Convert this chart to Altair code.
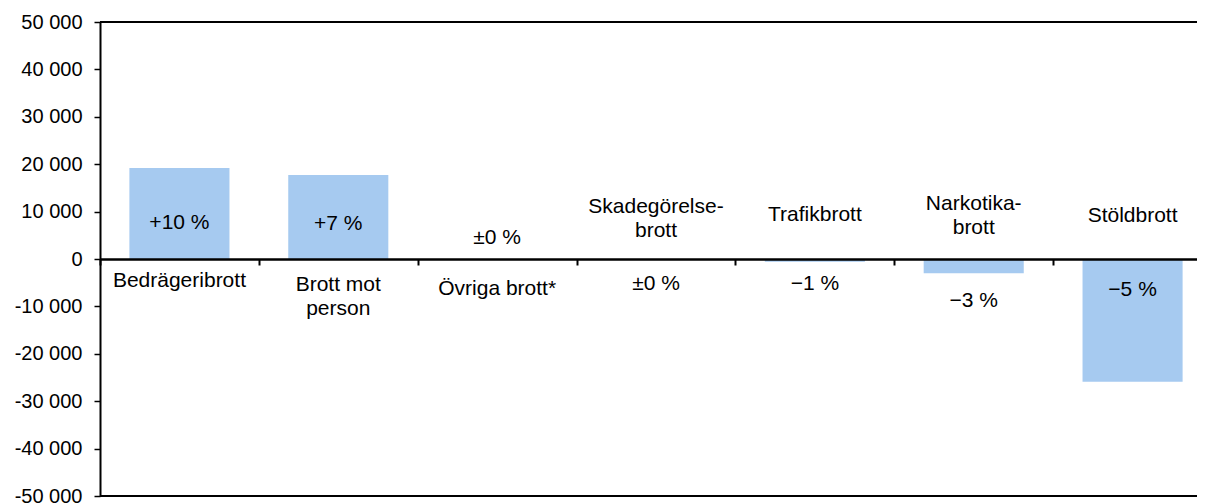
import altair as alt
import pandas as pd

# ---- data ----
categories = ["Bedrägeribrott", "Brott mot person", "Övriga brott*", "Skadegörelsebrott",
              "Trafikbrott", "Narkotikabrott", "Stöldbrott"]
change = [19200, 17700, 0, 0, -600, -3000, -25900]
pct_labels = ["+10 %", "+7 %", "±0 %", "±0 %", "−1 %", "−3 %", "−5 %"]
cat_labels = ["Bedrägeribrott", "Brott mot\nperson", "Övriga brott*", "Skadegörelse-\nbrott",
              "Trafikbrott", "Narkotika-\nbrott", "Stöldbrott"]
y_ticks = [-50000, -40000, -30000, -20000, -10000, 0, 10000, 20000, 30000, 40000, 50000]

# label anchors (in data units; first line of a wrapped label)
pct_y = [7600, 7400, 4430, -5270, -5270, -8860, -6540]
cat_y = [-4650, -5490, -6300, 10970, 9280, 11600, 9070]

FONT = "Liberation Sans"
FS_AXIS = 20
FS_TEXT = 21

VIEW_W = 1097      # visible plot width (svg must fit the 1189px page body)
BAND_RANGE = 1112  # the reference's plot runs past the right edge of the picture
PLOT_H = 474

df = pd.DataFrame({
    "cat": categories,
    "value": change,
    "pct": pct_labels,
    "label": cat_labels,
    "pct_y": pct_y,
    "cat_y": cat_y,
})
frame = pd.DataFrame({"value": [y_ticks[0], y_ticks[-1]]})

yscale = alt.Scale(domain=[y_ticks[0], y_ticks[-1]], nice=False, zero=False)
y_axis = alt.Axis(
    values=y_ticks, title=None, grid=False,
    domain=True, domainColor="black", domainWidth=2,
    ticks=True, tickColor="black", tickSize=6, tickWidth=1.5,
    labelFont=FONT, labelFontSize=FS_AXIS, labelColor="black", labelPadding=12,
    labelExpr="(datum.value < 0 ? '-' : '') + replace(format(abs(datum.value), ','), ',', ' ')",
    zindex=1,
)
x_axis = alt.Axis(
    labels=False, title=None, grid=False,
    domain=True, domainColor="black", domainWidth=2.5,
    ticks=True, tickColor="black", tickSize=6, tickWidth=2,
    tickBand="extent", offset=-PLOT_H / 2, zindex=1,
)
xenc = alt.X("cat:N", sort=categories,
             scale=alt.Scale(paddingInner=0, paddingOuter=0, range=[0, BAND_RANGE]),
             axis=x_axis)

bars = alt.Chart(df).mark_bar(color="#A6CAF0", width=alt.RelativeBandSize(0.63)).encode(
    x=xenc,
    y=alt.Y("value:Q", scale=yscale, axis=y_axis),
)

borders = alt.Chart(frame).mark_rule(color="black", strokeWidth=2).encode(
    y=alt.Y("value:Q", scale=yscale, axis=y_axis),
)

text_style = dict(font=FONT, fontSize=FS_TEXT, color="black", baseline="middle",
                  align="center", lineBreak="\n", lineHeight=24)

pct_text = alt.Chart(df).mark_text(**text_style).encode(
    x=xenc,
    y=alt.Y("pct_y:Q", scale=yscale, axis=y_axis),
    text="pct:N",
)
cat_text = alt.Chart(df).mark_text(**text_style).encode(
    x=xenc,
    y=alt.Y("cat_y:Q", scale=yscale, axis=y_axis),
    text="label:N",
)

chart = alt.layer(bars, borders, pct_text, cat_text).properties(
    width=VIEW_W, height=PLOT_H,
    autosize=alt.AutoSizeParams(type="none"),
    padding={"left": 92, "top": 14, "right": 0, "bottom": 8},
).configure_view(stroke=None).configure(background="white")

chart.save("out.html", embed_options={"renderer": "svg", "actions": False})
